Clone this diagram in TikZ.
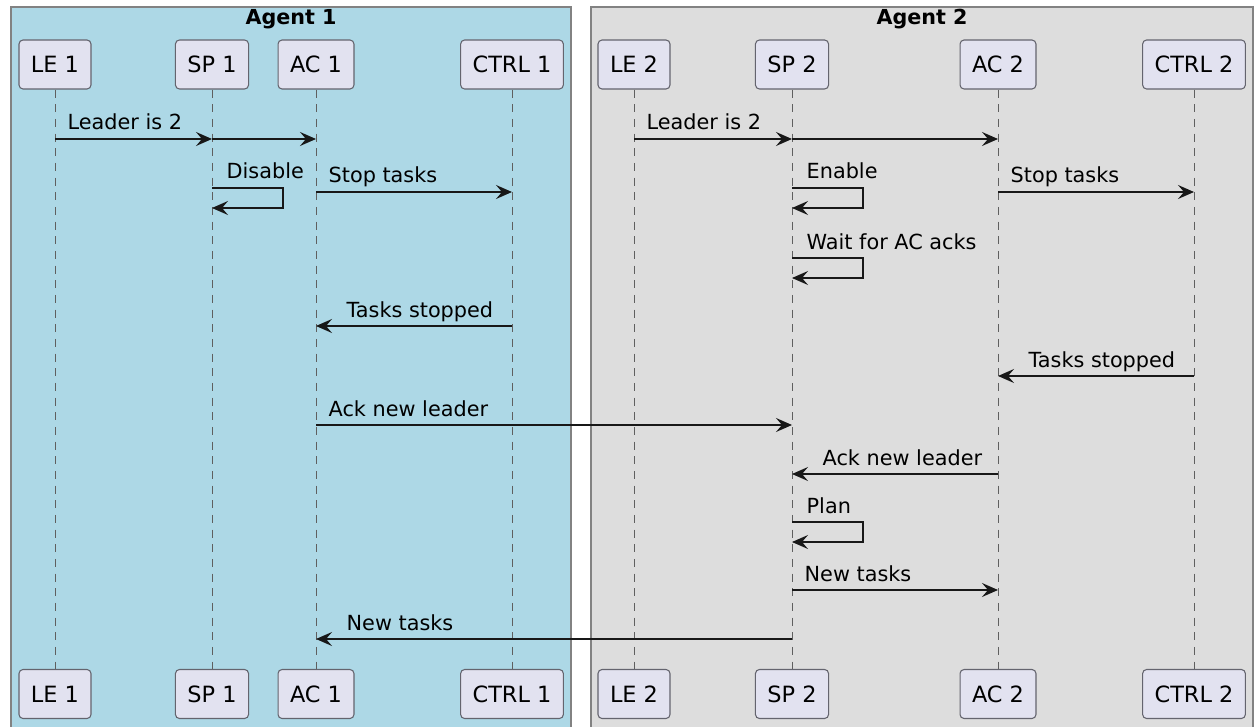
\documentclass[tikz,border=0pt]{standalone}
\usepackage{fontspec}
\setmainfont{DejaVu Sans}
\usepackage{tikz}
\usetikzlibrary{arrows.meta, positioning}
\definecolor{agentblue}{HTML}{ADD8E6}
\definecolor{agentgray}{HTML}{DDDDDD}
\definecolor{partfill}{HTML}{E2E2F0}
\definecolor{inkdark}{HTML}{181818}
\tikzstyle{agentbox} = [draw={rgb,255:red,130;green,130;blue,130}, line width=0.8pt]
\tikzstyle{agenttitle} = [font=\fontsize{15.5}{18}\selectfont\bfseries, inner sep=0pt]
\tikzstyle{part} = [draw={rgb,255:red,100;green,100;blue,110}, fill=partfill, rounded corners=3pt, line width=0.8pt, minimum height=36.75pt, inner xsep=9pt, font=\fontsize{16.8}{19}\selectfont]
\tikzstyle{lifeline} = [draw={rgb,255:red,95;green,95;blue,95}, line width=0.75pt, dash pattern=on 6pt off 5pt]
\tikzstyle{msg} = [draw=inkdark, line width=1pt, -{Stealth[length=12pt, width=10.5pt, inset=4.5pt]}]
\tikzstyle{lbl} = [font=\fontsize{15.6}{18}\selectfont, inner sep=0pt, yshift=6.75pt]

\begin{document}
\begin{tikzpicture}[x=0.75pt, y=-0.75pt]
			\useasboundingbox (0,0) rectangle (1255,727);
			\fill [white] (0,0) rectangle (1255,727);

			\path [agentbox, fill=agentblue] (11,7) rectangle (571,745);
			\path [agentbox, fill=agentgray] (591,7) rectangle (1253,745);
			\node [agenttitle] (title1) at (291,19) {Agent 1};
			\node [agenttitle] (title2) at (922,19) {Agent 2};

			\node [part] (le1) at (55,64.5) {LE 1};
			\node [part] (sp1) at (212,64.5) {SP 1};
			\node [part] (ac1) at (316,64.5) {AC 1};
			\node [part] (ctrl1) at (512,64.5) {CTRL 1};
			\node [part] (le2) at (634,64.5) {LE 2};
			\node [part] (sp2) at (792,64.5) {SP 2};
			\node [part] (ac2) at (998,64.5) {AC 2};
			\node [part] (ctrl2) at (1194,64.5) {CTRL 2};

			\node [part] (le1b) at (55,694) {LE 1};
			\node [part] (sp1b) at (212,694) {SP 1};
			\node [part] (ac1b) at (316,694) {AC 1};
			\node [part] (ctrl1b) at (512,694) {CTRL 1};
			\node [part] (le2b) at (634,694) {LE 2};
			\node [part] (sp2b) at (792,694) {SP 2};
			\node [part] (ac2b) at (998,694) {AC 2};
			\node [part] (ctrl2b) at (1194,694) {CTRL 2};

			\path [lifeline] (le1) -- (le1b);
			\path [lifeline] (sp1) -- (sp1b);
			\path [lifeline] (ac1) -- (ac1b);
			\path [lifeline] (ctrl1) -- (ctrl1b);
			\path [lifeline] (le2) -- (le2b);
			\path [lifeline] (sp2) -- (sp2b);
			\path [lifeline] (ac2) -- (ac2b);
			\path [lifeline] (ctrl2) -- (ctrl2b);

			\coordinate (r1) at (0,139);
			\coordinate (s1a) at (0,188);
			\coordinate (s1b) at (0,208);
			\coordinate (r2) at (0,192);
			\coordinate (s2a) at (0,258);
			\coordinate (s2b) at (0,278);
			\coordinate (r3) at (0,326);
			\coordinate (r4) at (0,376);
			\coordinate (r5) at (0,425);
			\coordinate (r6) at (0,474);
			\coordinate (s3a) at (0,522);
			\coordinate (s3b) at (0,542);
			\coordinate (r7) at (0,590);
			\coordinate (r8) at (0,639);

			\path [msg] (le1 |- r1) -- node [lbl, pos=0, anchor=base west, xshift=9pt] {Leader is 2} (sp1 |- r1);
			\path [msg] (sp1 |- r1) -- (ac1 |- r1);
			\path [msg] (le2 |- r1) -- node [lbl, pos=0, anchor=base west, xshift=9pt] {Leader is 2} (sp2 |- r1);
			\path [msg] (sp2 |- r1) -- (ac2 |- r1);

			\path [msg] (sp1 |- s1a) -- node [lbl, pos=0, anchor=base west, xshift=10.5pt] {Disable} ++(71,0) |- (sp1 |- s1b);
			\path [msg] (ac1 |- r2) -- node [lbl, pos=0, anchor=base west, xshift=9pt] {Stop tasks} (ctrl1 |- r2);
			\path [msg] (sp2 |- s1a) -- node [lbl, pos=0, anchor=base west, xshift=10.5pt] {Enable} ++(71,0) |- (sp2 |- s1b);
			\path [msg] (ac2 |- r2) -- node [lbl, pos=0, anchor=base west, xshift=9pt] {Stop tasks} (ctrl2 |- r2);

			\path [msg] (sp2 |- s2a) -- node [lbl, pos=0, anchor=base west, xshift=10.5pt] {Wait for AC acks} ++(71,0) |- (sp2 |- s2b);

			\path [msg] (ctrl1 |- r3) -- node [lbl, pos=1, anchor=base west, xshift=22.5pt] {Tasks stopped} (ac1 |- r3);
			\path [msg] (ctrl2 |- r4) -- node [lbl, pos=1, anchor=base west, xshift=22.5pt] {Tasks stopped} (ac2 |- r4);

			\path [msg] (ac1 |- r5) -- node [lbl, pos=0, anchor=base west, xshift=9pt] {Ack new leader} (sp2 |- r5);
			\path [msg] (ac2 |- r6) -- node [lbl, pos=1, anchor=base west, xshift=22.5pt] {Ack new leader} (sp2 |- r6);

			\path [msg] (sp2 |- s3a) -- node [lbl, pos=0, anchor=base west, xshift=10.5pt] {Plan} ++(71,0) |- (sp2 |- s3b);
			\path [msg] (sp2 |- r7) -- node [lbl, pos=0, anchor=base west, xshift=9pt] {New tasks} (ac2 |- r7);
			\path [msg] (sp2 |- r8) -- node [lbl, pos=1, anchor=base west, xshift=22.5pt] {New tasks} (ac1 |- r8);
		\end{tikzpicture}
\end{document}
